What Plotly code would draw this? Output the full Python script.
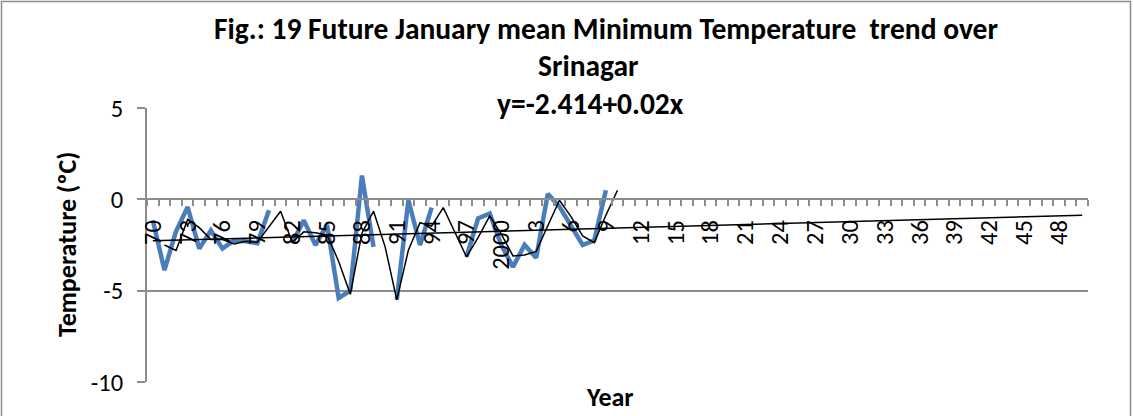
import plotly.graph_objects as go

# ---- data ----
years = list(range(1970, 2051))
tick_years = list(range(1970, 2050, 3))
tick_labels = [str(y % 100) if y < 2000 else ("2000" if y == 2000 else str(y - 2000)) for y in tick_years]

obs_years = list(range(1970, 2010))
obs_temp = [-1.15, -3.87, -1.75, -0.42, -2.7, -1.7, -2.7, -2.25, -2.3, -2.4,
            -0.6, None, -2.4, -1.15, -2.5, -1.4, -5.4, -5.0, 1.3, -2.6,
            None, -5.5, -0.05, -2.5, -0.45, None, None, -3.15, -1.05, -0.77,
            -2.5, -3.7, -2.5, -3.2, 0.3, -0.4, -1.5, -2.5, -2.24, 0.5]

ma_years = list(range(1970, 2011))
ma_temp = [None, -2.5, -2.8, -1.1, -1.55, -2.2, -2.2, -2.45, -2.3, -2.35,
           -1.5, -0.65, -2.35, -1.78, -1.83, -1.95, -3.4, -5.2, -1.85, -0.65,
           -2.6, -5.5, -2.78, -1.28, -1.47, -0.45, None, -3.15, -2.1, -0.91,
           -1.9, -3.1, -3.05, -2.85, -1.45, -0.05, -0.95, -2.0, -2.37, -0.87, 0.5]

trend_years = [1970, 2050]
trend_temp = [-2.27, -0.87]

FONT = "Carlito, Calibri, Lato, sans-serif"
GRID = "#8c8c8c"

fig = go.Figure()
fig.add_trace(go.Scatter(x=obs_years, y=obs_temp, mode="lines",
                         line=dict(color="#4A7EBB", width=4.5), connectgaps=False,
                         hoverinfo="skip"))
fig.add_trace(go.Scatter(x=ma_years, y=ma_temp, mode="lines",
                         line=dict(color="black", width=1.5), connectgaps=True,
                         hoverinfo="skip"))
fig.add_trace(go.Scatter(x=trend_years, y=trend_temp, mode="lines",
                         line=dict(color="black", width=1.5), hoverinfo="skip"))

fig.update_layout(
    width=1133, height=416,
    margin=dict(l=147, r=45, t=108, b=34),
    paper_bgcolor="white", plot_bgcolor="white",
    showlegend=False,
    font=dict(family=FONT, color="black"),
    xaxis=dict(
        range=[1969.5, 2050.5], anchor="free", position=2/3,
        tickmode="array", tickvals=tick_years, ticktext=tick_labels,
        tickangle=-90, tickfont=dict(size=24.5, color="black"),
        ticks="", showgrid=False, zeroline=False,
        showline=True, linecolor=GRID, linewidth=2,
        ticklabelstandoff=10,
        minor=dict(ticks="outside", tick0=1969.5, dtick=1, ticklen=6,
                   tickcolor=GRID, tickwidth=2, showgrid=False),
    ),
    yaxis=dict(
        range=[-10, 5], tickmode="array", tickvals=[-10, -5, 0, 5],
        ticktext=["-10", "-5", "0", "5"],
        tickfont=dict(size=24.5, color="black"),
        ticks="outside", ticklen=8, tickcolor=GRID, tickwidth=2,
        showgrid=True, gridcolor=GRID, gridwidth=2,
        zeroline=False, showline=True, linecolor=GRID, linewidth=2,
        ticklabelstandoff=9,
    ),
)

# Titles as annotations
fig.add_annotation(text="<b>Fig.: 19 Future January mean Minimum Temperature  trend over</b>",
                   xref="paper", yref="paper", x=(606 - 147) / 941, y=(382 - 29) / 274,
                   showarrow=False, font=dict(size=29.5, family=FONT), xanchor="center", yanchor="middle")
fig.add_annotation(text="<b>Srinagar</b>",
                   xref="paper", yref="paper", x=(588 - 147) / 941, y=(382 - 66) / 274,
                   showarrow=False, font=dict(size=29.5, family=FONT), xanchor="center", yanchor="middle")
fig.add_annotation(text="<b>y=-2.414+0.02x</b>",
                   xref="paper", yref="paper", x=(590 - 147) / 941, y=(382 - 104) / 274,
                   showarrow=False, font=dict(size=29.5, family=FONT), xanchor="center", yanchor="middle")
fig.add_annotation(text="<b>Temperature (ºC)</b>", textangle=-90,
                   xref="paper", yref="paper", x=(67 - 147) / 941, y=(382 - 245) / 274,
                   showarrow=False, font=dict(size=26, family=FONT), xanchor="center", yanchor="middle")
fig.add_annotation(text="<b>Year</b>",
                   xref="paper", yref="paper", x=(610 - 147) / 941, y=(382 - 397) / 274,
                   showarrow=False, font=dict(size=26, family=FONT), xanchor="center", yanchor="middle")

# outer chart border
fig.add_shape(type="rect", xref="paper", yref="paper",
              x0=(1.5 - 147) / 941, x1=(1130.5 - 147) / 941,
              y0=(382 - 420) / 274, y1=(382 - 1.5) / 274,
              line=dict(color=GRID, width=1.5), fillcolor="rgba(0,0,0,0)", layer="below")

fig.write_html("out.html", config={"displayModeBar": False},
               post_script="document.body.style.margin='0';")
